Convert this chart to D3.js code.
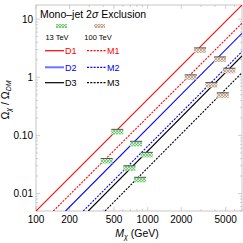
<!DOCTYPE html>
<html>
<head>
<meta charset="utf-8">
<script src="https://cdn.jsdelivr.net/npm/d3@7"></script>
<style>
  html, body { margin: 0; padding: 0; background: #fff; overflow: hidden; }
  svg { display: block; }
  text { font-family: "Liberation Sans", Arial, sans-serif; }
</style>
</head>
<body>
<div id="plot"></div>
<script>
const w = 243, h = 243;
const margin = {left: 36, right: 1, top: 5, bottom: 32};
const innerWidth = w - margin.left - margin.right;
const innerHeight = h - margin.top - margin.bottom;

// relic lines, read at the plot edges: [M (GeV), Omega ratio]
const lineNames = ["D1", "M1", "D2", "M2", "D3", "M3"];
const lineColors = ["#ff0000", "#ff0000", "#0000ff", "#0000ff", "#000000", "#000000"];
const lineDashed = [false, true, false, true, false, true];
const lineStart = [[100, 0.005], [143, 0.005], [184, 0.005], [265, 0.005], [294, 0.005], [415, 0.005]];
const lineEnd = [[7000, 17.5], [7000, 8.5], [7000, 5.7], [7000, 2.76], [7000, 2.33], [7000, 1.2]];

// exclusion markers: mass and ratio at the marker top edge
const lhcMass = [535, 430, 787, 686, 982, 855];
const lhcOmega = [0.127, 0.040, 0.079, 0.030, 0.051, 0.019];
const fccMass = [2950, 2432, 4454, 3723, 5396, 4710];
const fccOmega = [3.2, 1.10, 2.24, 0.81, 1.43, 0.54];

const xTicks = [100, 200, 500, 1000, 2000, 5000];
const xTickLabels = ["100", "200", "500", "1000", "2000", "5000"];
const yTicks = [0.01, 0.1, 1, 10];
const yTickLabels = ["0.01", "0.10", "1", "10"];

const xScale = d3.scaleLog().domain([100, 7000]).range([0, innerWidth]);
const yScale = d3.scaleLog().domain([0.005, 17.5]).range([innerHeight, 0]);

const svg = d3.select("div#plot")
  .append("svg")
  .attr("width", w)
  .attr("height", h);

const defs = svg.append("defs");
defs.append("clipPath").attr("id", "clip")
  .append("rect").attr("width", innerWidth).attr("height", innerHeight);

function hatch(id, bg, fg) {
  const p = defs.append("pattern").attr("id", id)
    .attr("patternUnits", "userSpaceOnUse").attr("width", 3).attr("height", 3);
  p.append("rect").attr("width", 3).attr("height", 3).attr("fill", bg);
  p.append("path").attr("d", "M0,3 L3,0 M0,0 L3,3").attr("stroke", fg).attr("stroke-width", 0.7);
}
hatch("hgreen", "#d3efcd", "#55bb5e");
hatch("htan", "#efe2d6", "#b89478");

const plot = svg.append("g")
  .attr("id", "plotarea")
  .attr("transform", `translate( ${margin.left}, ${margin.top} )`);

// minor + major ticks on all sides
const xMinor = [];
[100, 1000].forEach(b => d3.range(1, 10).forEach(k => { if (b * k <= 7000) xMinor.push(b * k); }));
const yMinor = [];
[0.001, 0.01, 0.1, 1, 10].forEach(b => d3.range(1, 10).forEach(k => {
  const v = b * k; if (v >= 0.005 && v <= 17.5) yMinor.push(v);
}));

const ticks = plot.append("g").attr("stroke", "#b0b0b0").attr("stroke-width", 0.6);
xMinor.forEach(v => {
  const L = xTicks.includes(v) ? 4 : 2;
  ticks.append("line").attr("x1", xScale(v)).attr("x2", xScale(v)).attr("y1", innerHeight).attr("y2", innerHeight - L);
  ticks.append("line").attr("x1", xScale(v)).attr("x2", xScale(v)).attr("y1", 0).attr("y2", L);
});
yMinor.forEach(v => {
  const L = yTicks.some(t => Math.abs(t - v) < 1e-9) ? 4 : 2;
  ticks.append("line").attr("y1", yScale(v)).attr("y2", yScale(v)).attr("x1", 0).attr("x2", L);
  ticks.append("line").attr("y1", yScale(v)).attr("y2", yScale(v)).attr("x1", innerWidth).attr("x2", innerWidth - L);
});

// frame
plot.append("rect")
  .attr("width", innerWidth).attr("height", innerHeight)
  .attr("fill", "none").attr("stroke", "#b8b8b8").attr("stroke-width", 0.8);

// tick labels
plot.append("g").selectAll("text")
  .data(xTicks)
  .enter()
  .append("text")
  .attr("x", d => xScale(d))
  .attr("y", innerHeight + 12)
  .attr("text-anchor", "middle")
  .attr("font-size", 10)
  .text((d, i) => xTickLabels[i]);

plot.append("g").selectAll("text")
  .data(yTicks)
  .enter()
  .append("text")
  .attr("x", -3)
  .attr("y", d => yScale(d) + 3.5)
  .attr("text-anchor", "end")
  .attr("font-size", 10)
  .text((d, i) => yTickLabels[i]);

// axis labels
const xlab = plot.append("text")
  .attr("x", innerWidth / 2 - 2)
  .attr("y", innerHeight + 26)
  .attr("text-anchor", "middle")
  .attr("font-size", 10.5);
xlab.append("tspan").attr("font-style", "italic").text("M");
xlab.append("tspan").attr("font-style", "italic").attr("font-size", 7).attr("dy", 2).text("χ");
xlab.append("tspan").attr("dy", -2).text(" (GeV)");

const ylab = svg.append("text")
  .attr("transform", `translate(9, ${margin.top + 95}) rotate(-90)`)
  .attr("text-anchor", "middle")
  .attr("font-size", 10.5);
ylab.append("tspan").text("Ω");
ylab.append("tspan").attr("font-style", "italic").attr("font-size", 7).attr("dy", 2).text("χ");
ylab.append("tspan").attr("dy", -2).text(" / Ω");
ylab.append("tspan").attr("font-size", 7).attr("font-style", "italic").attr("dy", 2).text("DM");

// relic lines
const lines = plot.append("g").attr("clip-path", "url(#clip)");
lineNames.forEach((n, i) => {
  lines.append("line")
    .attr("x1", xScale(lineStart[i][0])).attr("y1", yScale(lineStart[i][1]))
    .attr("x2", xScale(lineEnd[i][0])).attr("y2", yScale(lineEnd[i][1]))
    .attr("stroke", lineColors[i])
    .attr("stroke-width", 1.1)
    .attr("stroke-dasharray", lineDashed[i] ? "2,1.3" : null);
});

// exclusion markers
function markers(mass, omega, fill) {
  const g = plot.append("g");
  mass.forEach((m, i) => {
    const cx = xScale(m), cy = yScale(omega[i]);
    g.append("rect").attr("x", cx - 6).attr("y", cy).attr("width", 12).attr("height", 5)
      .attr("fill", fill);
    g.append("line").attr("x1", cx - 6).attr("x2", cx + 6).attr("y1", cy).attr("y2", cy)
      .attr("stroke", "#555").attr("stroke-width", 1);
  });
}
markers(lhcMass, lhcOmega, "url(#hgreen)");
markers(fccMass, fccOmega, "url(#htan)");

// legend
const leg = svg.append("g");
const title = leg.append("text").attr("x", 40).attr("y", 18).attr("font-size", 10.5);
title.append("tspan").text("Mono–jet 2");
title.append("tspan").attr("font-style", "italic").text("σ");
title.append("tspan").text(" Exclusion");

leg.append("rect").attr("x", 56).attr("y", 24).attr("width", 11).attr("height", 4).attr("fill", "url(#hgreen)");
leg.append("rect").attr("x", 94).attr("y", 24).attr("width", 11).attr("height", 4).attr("fill", "url(#htan)");
leg.append("text").attr("x", 57).attr("y", 40).attr("text-anchor", "middle").attr("font-size", 7.5).text("13 TeV");
leg.append("text").attr("x", 98).attr("y", 40).attr("text-anchor", "middle").attr("font-size", 7.5).text("100 TeV");

const legRows = [50.7, 67.3, 82.7];
lineNames.forEach((n, i) => {
  const row = Math.floor(i / 2), col = i % 2;
  const x0 = col === 0 ? 45 : 87;
  const yy = legRows[row];
  leg.append("line")
    .attr("x1", x0).attr("x2", x0 + 19).attr("y1", yy).attr("y2", yy)
    .attr("stroke", i === 2 ? "#6677ff" : lineColors[i])
    .attr("stroke-width", i === 2 ? 2 : 1.2)
    .attr("stroke-dasharray", lineDashed[i] ? "2,1.3" : null);
  leg.append("text")
    .attr("x", x0 + 20).attr("y", yy + 3.3)
    .attr("font-size", 9)
    .attr("fill", lineColors[i])
    .text(n);
});
</script>
</body>
</html>
